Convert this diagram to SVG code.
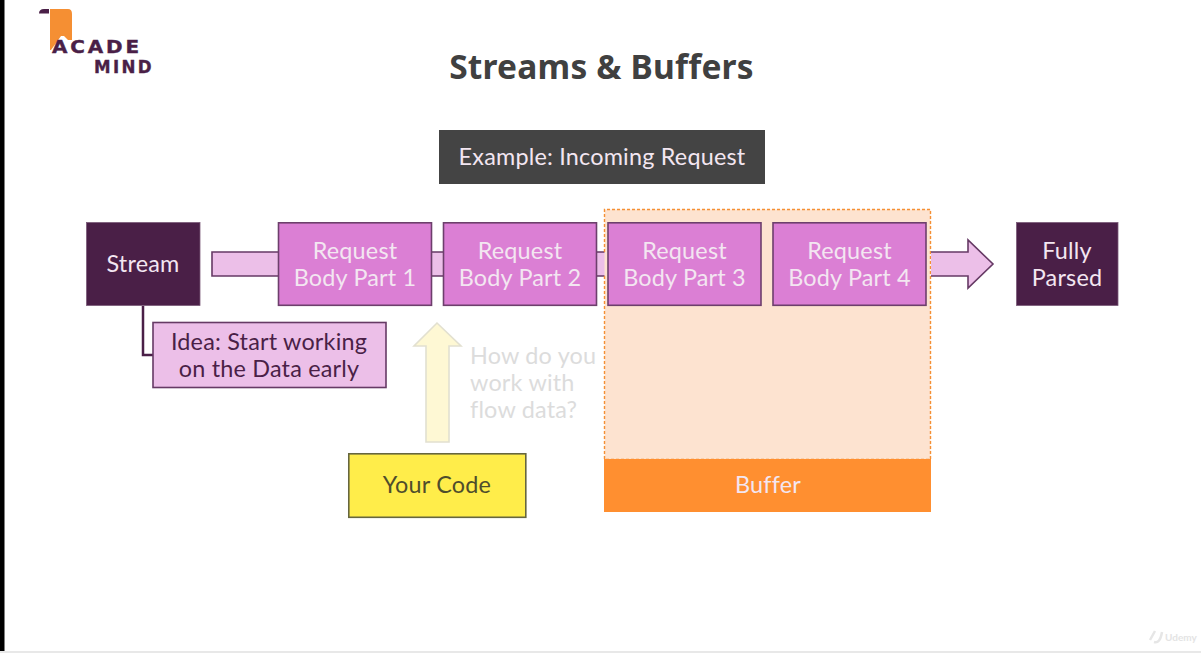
<svg xmlns="http://www.w3.org/2000/svg" width="1201" height="653" viewBox="0 0 1201 653">
<style>
text{font-family:"Lato","Noto Sans",sans-serif;font-size:23.400px;letter-spacing:.2px;text-anchor:middle}
.w{fill:#f3e6f1}
.d{fill:#4a1f47}
.part{fill:#db7fd4;stroke:#6d3f6c;stroke-width:1.600}
.dark{fill:#4a1f47;stroke:#7a5a78;stroke-width:.8}
.light{fill:#ecbfe8;stroke:#663a65;stroke-width:1.600}
.logo{font-family:"DejaVu Sans",sans-serif;font-size:17.500px;font-weight:700;fill:#4a1f47;stroke:#4a1f47;stroke-width:.4;text-anchor:start;letter-spacing:2.500px}
</style>
<rect width="1201" height="653" fill="#fff"/>
<rect x="0" y="0" width="4.500" height="653" fill="#000"/>
<rect x="0" y="651" width="1201" height="2" fill="#e8e8e8"/>
<g id="logo">
<path d="M50 9H68Q72 9 72 14V40H68L64 36H61L51 50H50Z" fill="#f58f33"/>
<path d="M39 13.500Q39 9 44 9H49V13.500Z" fill="#4a1f47"/>
<text class="logo" x="52" y="52.500" textLength="90" lengthAdjust="spacingAndGlyphs">ACADE</text>
<text class="logo" x="94" y="72.500" textLength="60" lengthAdjust="spacingAndGlyphs">MIND</text>
</g>
<text id="title" x="601.500" y="79" style="font-family:'Noto Sans',sans-serif;font-size:33.500px;letter-spacing:.2px;font-weight:700;fill:#404040">Streams &amp; Buffers</text>
<g id="example"><rect x="439" y="130" width="326" height="54" fill="#444"/><text class="w" x="602" y="165">Example: Incoming Request</text></g>
<g id="connectors">
<path d="M278 252H212V276H278" fill="#ecbfe8" stroke="#663a65" stroke-width="1.600"/>
<rect x="432" y="252" width="11" height="24" fill="#ecbfe8"/>
<rect x="597" y="252" width="8" height="24" fill="#ecbfe8"/>
<path d="M432 252H443M432 276H443M597 252H605M597 276H605" fill="none" stroke="#663a65" stroke-width="1.600"/>
</g>
<g id="buffer-area"><rect x="604.500" y="209.500" width="326" height="250" fill="#fde3d0"/><path d="M604.500 252V209.500H930.500V459.500H604.500V276" fill="none" stroke="#f58f33" stroke-width="1.400" stroke-dasharray="3 2"/></g>
<g id="connectors-front">
<path d="M931 252H968V240L993 264L968 288V276H931" fill="#ecbfe8" stroke="#663a65" stroke-width="1.600"/>
<path d="M143 306V355H153" fill="none" stroke="#4a1f47" stroke-width="2.500"/>
<path d="M426 442V346H414L437 323L461 346H449V442Z" fill="#fef8d4" stroke="#e2e0d0" stroke-width="1.600"/>
</g>
<g id="stream"><rect class="dark" x="86.500" y="222.500" width="113.500" height="83"/><text class="w" x="143" y="272">Stream</text></g>
<g id="part1"><rect class="part" x="278.500" y="222.800" width="153" height="82.500"/><text class="w" x="355" y="259">Request</text><text class="w" x="355" y="286">Body Part 1</text></g>
<g id="part2"><rect class="part" x="443.500" y="222.800" width="153" height="82.500"/><text class="w" x="520" y="259">Request</text><text class="w" x="520" y="286">Body Part 2</text></g>
<g id="part3"><rect class="part" x="608" y="222.800" width="153" height="82.500"/><text class="w" x="684.500" y="259">Request</text><text class="w" x="684.500" y="286">Body Part 3</text></g>
<g id="part4"><rect class="part" x="773" y="222.800" width="153" height="82.500"/><text class="w" x="849.500" y="259">Request</text><text class="w" x="849.500" y="286">Body Part 4</text></g>
<g id="parsed"><rect class="dark" x="1016.500" y="222.500" width="101.500" height="83"/><text class="w" x="1067" y="259">Fully</text><text class="w" x="1067" y="286">Parsed</text></g>
<g id="idea"><rect class="light" x="153" y="322.500" width="233" height="65"/><text class="d" x="269" y="350">Idea: Start working</text><text class="d" x="269" y="377">on the Data early</text></g>
<text id="question" x="470" y="364" style="text-anchor:start;fill:#dcdcdc">How do you<tspan x="470" dy="27">work with</tspan><tspan x="470" dy="27">flow data?</tspan></text>
<g id="code"><rect x="348.800" y="453.800" width="177" height="63.500" fill="#ffed4a" stroke="#66663f" stroke-width="1.600"/><text x="437" y="493" fill="#4f4d2c">Your Code</text></g>
<g id="buffer"><rect x="604" y="459" width="327" height="53" fill="#ff8f30"/><text class="w" x="768" y="493">Buffer</text></g>
<g id="udemy"><path d="M1150 640L1155 631M1154 642Q1160 644 1162 632" fill="none" stroke="#e6e6e6" stroke-width="2.500"/><text x="1181" y="641" style="font-size:10px;letter-spacing:0;fill:#e4e4e4;font-weight:700">Udemy</text></g>
</svg>
